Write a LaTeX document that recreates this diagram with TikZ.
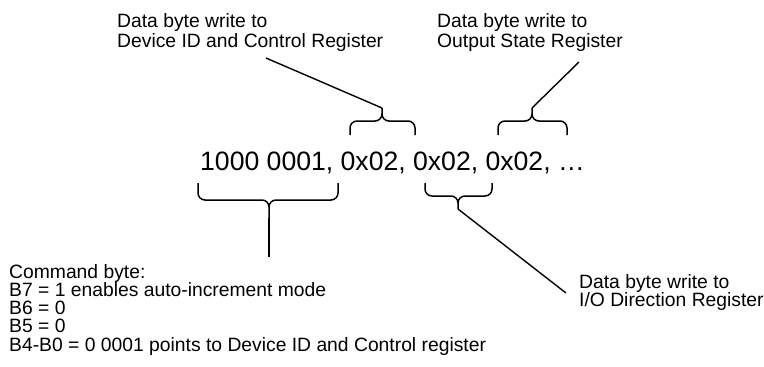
\documentclass[tikz,border=0pt]{standalone}
\usepackage{fontspec}
\setmainfont{Liberation Sans}

\begin{document}
\begin{tikzpicture}[x=1pt, y=-1pt,
        label/.style={anchor=base west, align=left, inner sep=0pt, font=\fontsize{19.3}{20}\selectfont},
        bracket/.style={line width=1.5pt, rounded corners=7pt},
        lead/.style={line width=1.4pt}]
        \useasboundingbox (0,0) rectangle (764,367);

        % データ列
        \node[anchor=base west, inner sep=0pt, font=\fontsize{26.6}{30}\selectfont] (bytes) at (200,170) {1000 0001, 0x02, 0x02, 0x02, \dots};

        % 説明ラベル (最終行のベースラインで配置)
        \node[label] (ctrl) at (117,47) {Data byte write to\\Device ID and Control Register};
        \node[label] (state) at (437,47) {Data byte write to\\Output State Register};
        \node[label, font=\fontsize{19.3}{18}\selectfont] (dir) at (579,306) {Data byte write to\\I/O Direction Register};
        \node[label, font=\fontsize{19.3}{18.2}\selectfont] (cmd) at (9,351)
            {Command byte:\\B7 = 1 enables auto-increment mode\\B6 = 0\\B5 = 0\\B4-B0 = 0 0001 points to Device ID and Control register};

        % 括弧の先端
        \coordinate (tipctrl) at (382,108);
        \coordinate (tipstate) at (532,108);
        \coordinate (tipcmd) at (269,218);
        \coordinate (tipdir) at (458,209);
        \coordinate (endctrl) at (266,58);
        \coordinate (endstate) at (579,62);
        \coordinate (endcmd) at (269,257);
        \coordinate (enddir) at (566,293);

        % 括弧
        \draw[bracket] (350,135) -- (350,121) -- (382,121) -- (tipctrl)
                       (415,135) -- (415,121) -- (382,121) -- (tipctrl);
        \draw[bracket] (498,135) -- (498,121) -- (532,121) -- (tipstate)
                       (567,135) -- (567,121) -- (532,121) -- (tipstate);
        \draw[bracket] (198,183) -- (198,200) -- (269,200) -- (tipcmd)
                       (338,183) -- (338,200) -- (269,200) -- (tipcmd);
        \draw[bracket] (425,183) -- (425,196) -- (458,196) -- (tipdir)
                       (492,183) -- (492,196) -- (458,196) -- (tipdir);

        % 引き出し線
        \draw[lead] (tipctrl) -- (endctrl);
        \draw[lead] (tipstate) -- (endstate);
        \draw[lead] (tipcmd) -- (endcmd);
        \draw[lead] (tipdir) -- (enddir);
    \end{tikzpicture}
\end{document}
